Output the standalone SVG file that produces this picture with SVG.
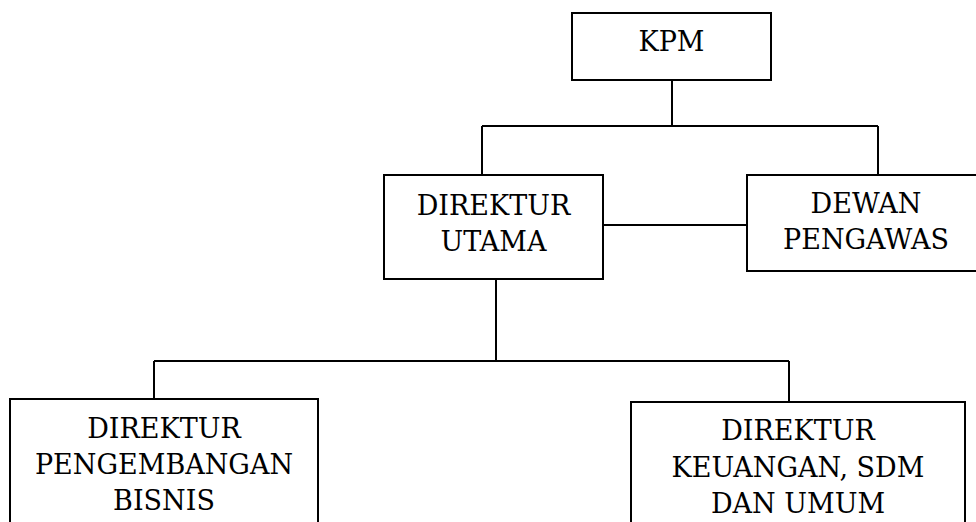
<svg xmlns="http://www.w3.org/2000/svg" width="976" height="522" viewBox="0 0 976 522">
<style>
.box{fill:#fff;stroke:#000;stroke-width:2}
.ln{fill:none;stroke:#000;stroke-width:2}
text{font-family:"DejaVu Serif","Liberation Serif",serif;font-size:27px;fill:#000;text-anchor:middle}
</style>
<rect width="976" height="522" fill="#fff"/>
<g id="connectors">
<path class="ln" d="M672 80V126M482 126H878M482 126V175M878 126V175"/>
<path class="ln" d="M603 225H747"/>
<path class="ln" d="M496 279V361M154 361H789M154 361V399M789 361V402"/>
</g>
<g id="kpm">
<rect class="box" x="572" y="13" width="199" height="67"/>
<text x="671.5" y="51">KPM</text>
</g>
<g id="direktur-utama">
<rect class="box" x="384" y="175" width="219" height="104"/>
<text x="493.5" y="215">DIREKTUR</text>
<text x="493.5" y="251">UTAMA</text>
</g>
<g id="dewan-pengawas">
<rect class="box" x="747" y="175" width="240" height="96"/>
<text x="866" y="213">DEWAN</text>
<text x="866" y="249">PENGAWAS</text>
</g>
<g id="direktur-pengembangan">
<rect class="box" x="10" y="399" width="308" height="140"/>
<text x="164" y="438">DIREKTUR</text>
<text x="164" y="474">PENGEMBANGAN</text>
<text x="164" y="510">BISNIS</text>
</g>
<g id="direktur-keuangan">
<rect class="box" x="631" y="402" width="334" height="140"/>
<text x="798" y="440">DIREKTUR</text>
<text x="798" y="477">KEUANGAN, SDM</text>
<text x="798" y="513">DAN UMUM</text>
</g>
</svg>
